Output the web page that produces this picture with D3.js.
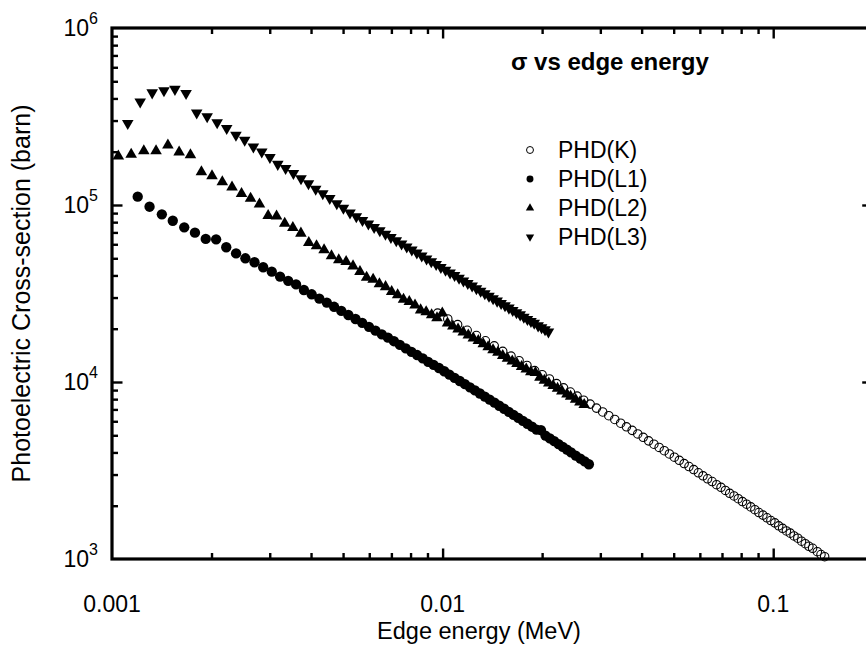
<!DOCTYPE html>
<html><head><meta charset="utf-8">
<script src="https://cdn.jsdelivr.net/npm/d3@7/dist/d3.min.js"></script>
<style>
html,body{margin:0;padding:0;background:#fff;}
svg{display:block;font-family:"Liberation Sans",Arial,Helvetica,sans-serif;}
</style></head><body>
<svg id="chart" width="866" height="646"></svg>
<script>
// Edge energies (MeV) and photoelectric cross-sections (barn) at each edge, Z = 30..100
const kEnergy = [0.009659,0.010367,0.011103,0.011867,0.012658,0.013474,0.014326,0.015200,0.016105,0.017038,
  0.017998,0.018986,0.020000,0.021044,0.022117,0.023220,0.024350,0.025514,0.026711,0.027940,
  0.029200,0.030491,0.031814,0.033169,0.034561,0.035985,0.037441,0.038925,0.040443,0.041991,
  0.043569,0.045184,0.046834,0.048519,0.050239,0.051996,0.053789,0.055618,0.057486,0.059390,
  0.061332,0.063314,0.065351,0.067416,0.069525,0.071676,0.073871,0.076111,0.078395,0.080725,
  0.083102,0.085530,0.088005,0.090526,0.093105,0.095730,0.098404,0.101137,0.103922,0.106755,
  0.109651,0.112601,0.115606,0.118678,0.121818,0.125027,0.128220,0.131590,0.135960,0.139490,
  0.143090];
const kSigma = [2.45e4,2.27e4,2.11e4,1.96e4,1.83e4,1.71e4,1.60e4,1.49e4,1.40e4,1.32e4,
  1.24e4,1.16e4,1.10e4,1.04e4,9.80e3,9.27e3,8.78e3,8.32e3,7.89e3,7.50e3,
  7.12e3,6.77e3,6.45e3,6.14e3,5.85e3,5.58e3,5.33e3,5.09e3,4.87e3,4.65e3,
  4.45e3,4.27e3,4.09e3,3.92e3,3.76e3,3.61e3,3.46e3,3.33e3,3.20e3,3.07e3,
  2.95e3,2.84e3,2.74e3,2.63e3,2.54e3,2.44e3,2.35e3,2.27e3,2.19e3,2.11e3,
  2.04e3,1.97e3,1.90e3,1.83e3,1.77e3,1.71e3,1.65e3,1.60e3,1.54e3,1.49e3,
  1.44e3,1.40e3,1.35e3,1.31e3,1.26e3,1.22e3,1.18e3,1.15e3,1.10e3,1.06e3,
  1.03e3];

const l1Energy = [0.001196,0.001299,0.001415,0.001527,0.001654,0.001782,0.001921,0.002065,0.002216,0.002373,
  0.002532,0.002698,0.002866,0.003043,0.003224,0.003412,0.003604,0.003806,0.004018,0.004238,
  0.004465,0.004698,0.004939,0.005188,0.005453,0.005714,0.005989,0.006266,0.006549,0.006835,
  0.007126,0.007428,0.007737,0.008052,0.008376,0.008708,0.009046,0.009394,0.009751,0.010116,
  0.010486,0.010870,0.011271,0.011682,0.012100,0.012527,0.012968,0.013419,0.013880,0.014353,
  0.014839,0.015347,0.015861,0.016388,0.016939,0.017493,0.018049,0.018639,0.019237,0.019840,
  0.020472,0.021105,0.021757,0.022427,0.023097,0.023773,0.024460,0.025275,0.026110,0.026900,
  0.027700];
const l1Sigma = [1.115e5,9.78e4,8.86e4,8.15e4,7.48e4,6.98e4,6.43e4,6.40e4,5.77e4,5.33e4,
  5.00e4,4.75e4,4.45e4,4.20e4,3.94e4,3.73e4,3.56e4,3.31e4,3.13e4,2.96e4,
  2.81e4,2.66e4,2.52e4,2.39e4,2.27e4,2.16e4,2.05e4,1.95e4,1.86e4,1.78e4,
  1.70e4,1.62e4,1.55e4,1.48e4,1.42e4,1.36e4,1.30e4,1.25e4,1.20e4,1.15e4,
  1.10e4,1.056e4,1.013e4,9.72e3,9.33e3,8.96e3,8.61e3,8.27e3,7.95e3,7.64e3,
  7.34e3,7.06e3,6.78e3,6.52e3,6.27e3,6.03e3,5.81e3,5.59e3,5.38e3,5.35e3,
  4.98e3,4.80e3,4.63e3,4.46e3,4.30e3,4.15e3,4.00e3,3.84e3,3.69e3,3.56e3,
  3.43e3];

const l2Energy = [0.001045,0.001143,0.001248,0.001359,0.001476,0.001596,0.001727,0.001864,0.002007,0.002156,
  0.002307,0.002465,0.002625,0.002793,0.002967,0.003146,0.003330,0.003524,0.003727,0.003938,
  0.004156,0.004380,0.004612,0.004852,0.005107,0.005359,0.005624,0.005891,0.006164,0.006440,
  0.006722,0.007013,0.007312,0.007617,0.007930,0.008252,0.008581,0.008918,0.009264,0.009617,
  0.009978,0.010349,0.010739,0.011136,0.011544,0.011959,0.012385,0.012824,0.013273,0.013734,
  0.014209,0.014698,0.015200,0.015711,0.016244,0.016785,0.017337,0.017907,0.018484,0.019083,
  0.019693,0.020314,0.020948,0.021600,0.022266,0.022944,0.023779,0.024385,0.025250,0.026020,
  0.026810];
const l2Sigma = [1.89e5,1.93e5,2.02e5,2.02e5,2.18e5,1.99e5,1.92e5,1.54e5,1.46e5,1.35e5,
  1.26e5,1.16e5,1.09e5,1.01e5,8.70e4,8.66e4,7.88e4,7.44e4,6.92e4,6.12e4,
  5.87e4,5.57e4,5.15e4,4.89e4,4.78e4,4.52e4,4.20e4,3.90e4,3.80e4,3.58e4,
  3.45e4,3.24e4,3.10e4,2.93e4,2.84e4,2.72e4,2.55e4,2.49e4,2.39e4,2.30e4,
  2.45e4,2.15e4,2.07e4,1.99e4,1.91e4,1.84e4,1.77e4,1.71e4,1.64e4,1.58e4,
  1.52e4,1.47e4,1.41e4,1.36e4,1.31e4,1.27e4,1.22e4,1.18e4,1.14e4,1.13e4,
  1.06e4,1.02e4,9.86e3,9.52e3,9.20e3,8.89e3,8.54e3,8.29e3,7.97e3,7.70e3,
  7.44e3];

// L3 starts at Z = 31
const l3Energy = [0.001116,0.001217,0.001323,0.001436,0.001550,0.001675,0.001804,0.001940,0.002080,
  0.002223,0.002371,0.002520,0.002677,0.002838,0.003004,0.003173,0.003351,0.003538,0.003730,
  0.003929,0.004132,0.004341,0.004557,0.004786,0.005012,0.005247,0.005483,0.005723,0.005964,
  0.006208,0.006459,0.006716,0.006977,0.007243,0.007514,0.007790,0.008071,0.008358,0.008648,
  0.008944,0.009244,0.009561,0.009881,0.010207,0.010535,0.010871,0.011215,0.011564,0.011919,
  0.012284,0.012658,0.013035,0.013419,0.013814,0.014214,0.014619,0.015031,0.015444,0.015871,
  0.016300,0.016733,0.017166,0.017610,0.018057,0.018504,0.018930,0.019452,0.019930,0.020410,
  0.020900];
const l3Sigma = [2.89e5,3.83e5,4.31e5,4.43e5,4.51e5,4.28e5,3.32e5,3.16e5,2.92e5,
  2.71e5,2.48e5,2.33e5,2.13e5,2.00e5,1.86e5,1.70e5,1.61e5,1.51e5,1.41e5,
  1.32e5,1.23e5,1.16e5,1.09e5,1.02e5,9.60e4,9.04e4,8.60e4,8.20e4,7.83e4,
  7.49e4,7.16e4,6.86e4,6.57e4,6.30e4,6.04e4,5.81e4,5.58e4,5.37e4,5.16e4,
  4.97e4,4.79e4,4.62e4,4.45e4,4.29e4,4.14e4,4.00e4,3.86e4,3.73e4,3.61e4,
  3.49e4,3.37e4,3.26e4,3.16e4,3.06e4,2.96e4,2.87e4,2.78e4,2.70e4,2.62e4,
  2.54e4,2.47e4,2.40e4,2.33e4,2.26e4,2.20e4,2.15e4,2.08e4,2.03e4,1.98e4,
  1.92e4];

const seriesNames = ["PHD(K)","PHD(L1)","PHD(L2)","PHD(L3)"];
const xTickValues = [0.001, 0.01, 0.1];
const xTickLabels = ["0.001", "0.01", "0.1"];
const yTickValues = [1e3, 1e4, 1e5, 1e6];
const yTickExponents = ["3", "4", "5", "6"];
const titleText = "σ vs edge energy";
const xTitle = "Edge energy (MeV)";
const yTitle = "Photoelectric Cross-section (barn)";

const svg = d3.select("#chart");
const plotLeft = 112, plotTop = 28, plotBottom = 559;
const decadePx = 330.6;
const x = d3.scaleLog().domain([0.001, 0.2]).range([plotLeft, plotLeft + decadePx * Math.log10(200)]);
const y = d3.scaleLog().domain([1e3, 1e6]).range([plotBottom, plotTop]);
const plotRight = x.range()[1];

// minor tick positions (2..9 within each decade)
const minorX = [], minorY = [];
[0.001, 0.01, 0.1].forEach(d => { for (let m = 2; m <= 9; m++) { const v = d * m; if (v < 0.2) minorX.push(v); } });
[1e3, 1e4, 1e5].forEach(d => { for (let m = 2; m <= 9; m++) minorY.push(d * m); });

function styleAxis(g) {
  g.select(".domain").remove();
  g.selectAll(".tick line").attr("stroke", "#000").attr("stroke-width", 2.4);
}
const majX = xTickValues.filter(v => v > 0.001);
const majY = yTickValues.filter(v => v > 1e3 && v < 1e6);
const majLen = 10.5, minLen = 6;

function addAxis(axis, tx, ty) {
  svg.append("g").attr("transform", `translate(${tx},${ty})`).call(axis).call(styleAxis);
}
addAxis(d3.axisBottom(x).tickValues(majX).tickSize(-majLen).tickFormat(""), 0, plotBottom);
addAxis(d3.axisBottom(x).tickValues(minorX).tickSize(-minLen).tickFormat(""), 0, plotBottom);
addAxis(d3.axisTop(x).tickValues(majX).tickSize(-majLen).tickFormat(""), 0, plotTop);
addAxis(d3.axisTop(x).tickValues(minorX).tickSize(-minLen).tickFormat(""), 0, plotTop);
addAxis(d3.axisLeft(y).tickValues(majY).tickSize(-majLen).tickFormat(""), plotLeft, 0);
addAxis(d3.axisLeft(y).tickValues(minorY).tickSize(-minLen).tickFormat(""), plotLeft, 0);
addAxis(d3.axisRight(y).tickValues(majY).tickSize(-majLen).tickFormat(""), plotRight, 0);
addAxis(d3.axisRight(y).tickValues(minorY).tickSize(-minLen).tickFormat(""), plotRight, 0);

// frame
svg.append("rect").attr("x", plotLeft).attr("y", plotTop)
  .attr("width", plotRight - plotLeft).attr("height", plotBottom - plotTop)
  .attr("fill", "none").attr("stroke", "#000").attr("stroke-width", 3.2);

// x tick labels
svg.append("g").selectAll("text").data(xTickValues).join("text")
  .attr("x", d => x(d)).attr("y", plotBottom + 53)
  .attr("text-anchor", "middle").attr("font-size", 23).attr("fill", "#000")
  .text((d, i) => xTickLabels[i]);

// y tick labels with superscript exponent
const yl = svg.append("g").selectAll("text").data(yTickValues).join("text")
  .attr("x", 98).attr("y", d => y(d) + 8)
  .attr("text-anchor", "end").attr("font-size", 23).attr("fill", "#000");
yl.append("tspan").text("10");
yl.append("tspan").attr("font-size", 16).attr("dy", -12).text((d, i) => yTickExponents[i]);

// axis titles
svg.append("text").attr("x", 479).attr("y", 639)
  .attr("text-anchor", "middle").attr("font-size", 23.5).text(xTitle);
svg.append("text").attr("transform", `translate(30,${(plotTop + plotBottom) / 2}) rotate(-90)`)
  .attr("text-anchor", "middle").attr("font-size", 25).text(yTitle);

// chart title
svg.append("text").attr("x", 511).attr("y", 70)
  .attr("font-size", 24).attr("font-weight", "bold").text(titleText);

// markers
const circleSym = d3.symbol().type(d3.symbolCircle);
const triSym = d3.symbol().type(d3.symbolTriangle);
const series = [
  {name: seriesNames[0], e: kEnergy, s: kSigma, shape: "circle", fill: "none", size: 56, rot: 0},
  {name: seriesNames[1], e: l1Energy, s: l1Sigma, shape: "circle", fill: "#000", size: 84, rot: 0},
  {name: seriesNames[2], e: l2Energy, s: l2Sigma, shape: "tri", fill: "#000", size: 58, rot: 0},
  {name: seriesNames[3], e: l3Energy, s: l3Sigma, shape: "tri", fill: "#000", size: 58, rot: 180}
];
const plot = svg.append("g");
series.forEach(sr => {
  const pts = sr.e.map((e, i) => ({e, s: sr.s[i]}));
  const sym = (sr.shape === "circle" ? circleSym : triSym).size(sr.size);
  plot.append("g").selectAll("path").data(pts).join("path")
    .attr("transform", d => `translate(${x(d.e)},${y(d.s)}) rotate(${sr.rot})`)
    .attr("d", sym())
    .attr("fill", sr.fill)
    .attr("stroke", "#000")
    .attr("stroke-width", sr.fill === "none" ? 1.1 : 0);
});

// legend
const legY = [150, 179, 208, 237];
const leg = svg.append("g");
series.forEach((sr, i) => {
  const sym = (sr.shape === "circle" ? circleSym : triSym).size(sr.shape === "circle" ? 38 : 30);
  leg.append("path").attr("transform", `translate(530,${legY[i]}) rotate(${sr.rot})`)
    .attr("d", sym()).attr("fill", sr.fill).attr("stroke", "#000")
    .attr("stroke-width", sr.fill === "none" ? 1 : 0);
  leg.append("text").attr("x", 558).attr("y", legY[i] + 8)
    .attr("font-size", 23).text(sr.name);
});
</script>
</body></html>
